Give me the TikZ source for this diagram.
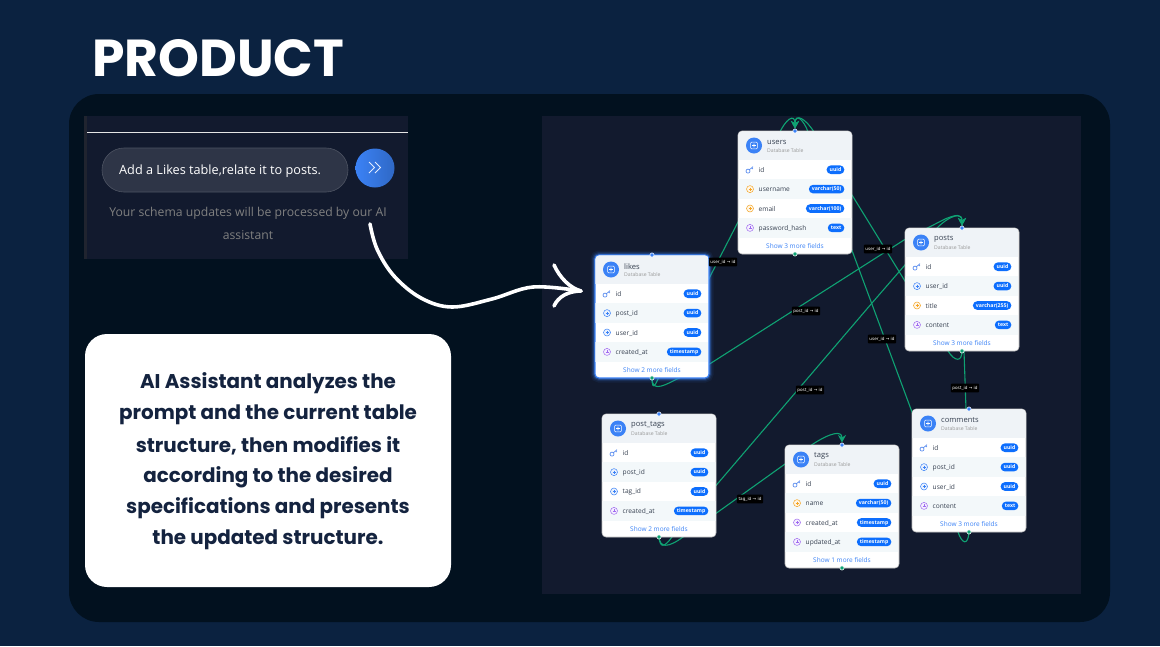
\documentclass[tikz,border=0pt]{standalone}
\usepackage{fontspec}
\setmainfont{Open Sans}
\newfontfamily\titlefont{Poppins}
\newfontfamily\edgefont{DejaVu Sans}
\usetikzlibrary{backgrounds, arrows.meta}
\pgfdeclarelayer{edges}
\pgfsetlayers{background,edges,main}

\definecolor{pagebg}{HTML}{0B2240}
\definecolor{panelbg}{HTML}{02111F}
\definecolor{shotbg}{HTML}{121A2E}
\definecolor{stripbg}{HTML}{20242F}
\definecolor{edgegreen}{HTML}{0FA273}
\definecolor{pillblue}{HTML}{0D6EFD}
\definecolor{iconblue}{HTML}{3B82F6}
\definecolor{iconorange}{HTML}{F5A524}
\definecolor{iconpurple}{HTML}{A06CF0}
\definecolor{keyblue}{HTML}{5B8DEF}
\definecolor{rowtint}{HTML}{F3F8FA}
\definecolor{headtint}{HTML}{EFF3F7}
\definecolor{inktext}{HTML}{374151}
\definecolor{boxtext}{HTML}{14233F}

\newcommand{\fsize}[1]{\fontsize{#1}{#1}\selectfont}

\tikzset{
  card/.style={draw=black!25, fill=white, rounded corners=4, line width=.6pt,
    minimum width=114, minimum height=123, anchor=north west, inner sep=0, outer sep=0},
  glow/.style={draw=iconblue, line width=1.1pt,
    preaction={draw=iconblue, line width=9pt, opacity=.08},
    preaction={draw=iconblue, line width=6pt, opacity=.14},
    preaction={draw=iconblue, line width=3.5pt, opacity=.3}},
  edge/.style={draw=edgegreen, line width=1.1pt, >={Stealth[length=7.5, width=8]}, shorten >=2.5},
  edgelabel/.style={fill=black, text=white, font=\edgefont\fsize{4.2}, inner xsep=1.6, inner ysep=2.4,
    rounded corners=1},
  fieldname/.style={anchor=west, text=inktext, font=\fsize{6.6}, inner sep=0},
  pill/.style={anchor=east, fill=pillblue, text=white, font=\bfseries\fsize{5.2}, rounded corners=4.2,
    minimum height=8.6, inner xsep=3, inner ysep=0, text height=4, text depth=.8},
  plusicon/.style={circle, draw=#1, fill=#1!10, line width=.5pt, minimum size=7, inner sep=0},
}

% one table card: options, name, x, y, title, footer, rows
\newcommand{\tablecard}[7][]{%
  \node[card,#1] (#2) at (#3,#4) {};
  \begin{scope}[shift={(#3,#4)}]
    \begin{scope}
      \clip[rounded corners=4] (.3,.3) rectangle (113.7,122.7);
      \fill[headtint] (0,0) rectangle (114,29);
      \fill[rowtint] (0,48.4) rectangle (114,67.8);
      \fill[rowtint] (0,87.2) rectangle (114,106.6);
    \end{scope}
    \node[circle, fill=iconblue, minimum size=16, inner sep=0] (#2-icon) at (16,14.5) {};
    \draw[white, line width=.6pt, rounded corners=1] (12.6,11.1) rectangle (19.4,17.9)
      (16,12.6) -- (16,16.4) (14.1,14.5) -- (17.9,14.5);
    \node[anchor=west, text=inktext, font=\fsize{7.6}, inner sep=0] (#2-title) at (29,11.2) {#5};
    \node[anchor=west, text=black!40, font=\fsize{5.1}, inner sep=0] (#2-sub) at (29,19.6) {Database Table};
    \foreach \rownum/\fcolor/\fname/\ftype [evaluate=\rownum as \rowy using 38.7+19.4*\rownum] in {#7} {
      \ifx\fcolor\keymark
        \draw[keyblue, line width=.7pt] (10,\rowy+1.4) circle (2) (11.4,\rowy) -- (15,\rowy-3)
          (13.6,\rowy-1.8) -- (14.8,\rowy-.7);
      \else
        \node[plusicon=\fcolor] (#2-plus-\rownum) at (12,\rowy) {};
        \draw[\fcolor, line width=.4pt] (10.5,\rowy) -- (13.5,\rowy) (12,\rowy-1.5) -- (12,\rowy+1.5);
      \fi
      \node[fieldname] (#2-name-\rownum) at (20.5,\rowy+.6) {\fname};
      \node[pill] (#2-type-\rownum) at (106.5,\rowy) {\ftype};
    }
    \node[text=iconblue, font=\fsize{6.5}, inner sep=0] (#2-more) at (57,115) {#6};
  \end{scope}
  \node[circle, fill=iconblue, draw=white, line width=.5pt, minimum size=4.2, inner sep=0] (#2-top) at (#2.north) {};
  \node[circle, fill=edgegreen, draw=white, line width=.5pt, minimum size=4.2, inner sep=0] (#2-bot) at (#2.south) {};
}
\def\keymark{key}

\begin{document}
\begin{tikzpicture}[x=1pt, y=-1pt]
  \useasboundingbox (0,0) rectangle (1160,646);

  \begin{scope}[on background layer]
    \fill[pagebg] (0,0) rectangle (1160,646);
    \fill[panelbg, rounded corners=30] (69,94) rectangle (1110,622);
    \fill[shotbg] (84,116) rectangle (408,259);
    \fill[shotbg] (542,116) rectangle (1081,594);
    \fill[stripbg] (84,116) rectangle (87,259);
  \end{scope}

  \node[anchor=west, text=white, font=\titlefont\bfseries\fsize{52}, inner sep=0] (title) at (92,58) {PRODUCT};

  % prompt screenshot
  \draw[black!10, line width=1pt] (87,132) -- (408,132);
  \node[draw=white!25!shotbg, fill=white!12!shotbg, rounded corners=22, line width=.6pt, minimum width=246, minimum height=44,
    inner sep=0] (prompt) at (225,170) {};
  \node[anchor=west, text=white, font=\fsize{12.7}, inner sep=0] (prompttext) at (119,171) {Add a Likes table,relate it to posts.};
  \node[circle, left color=iconblue, right color=iconblue!80!black, minimum size=39, inner sep=0] (send) at (375,168) {};
  \draw[white!85!iconblue, line width=.8pt] (369,162) -- (374.5,167.5) -- (369,173) (375,162) -- (380.5,167.5) -- (375,173);
  \node[text=black!50, font=\fsize{12.2}, inner sep=0] (hintone) at (248,213) {Your schema updates will be processed by our AI};
  \node[text=black!50, font=\fsize{12.2}, inner sep=0] (hinttwo) at (248,235) {assistant};

  % explanation box
  \node[fill=white, rounded corners=22, minimum width=366, minimum height=253, inner sep=0] (explain) at (268,460.5) {};
  \foreach \ln/\lt in {0/AI Assistant analyzes the, 1/prompt and the current table, 2/{structure, then modifies it},
      3/according to the desired, 4/specifications and presents, 5/the updated structure.} {
    \node[text=boxtext, font=\titlefont\bfseries\fsize{19.9}, inner sep=0] (explain-\ln) at (268,383.5+31.2*\ln) {\lt};
  }

  % tables
  \tablecard{users}{738}{131}{users}{Show 3 more fields}{0/key/id/uuid, 1/iconorange/username/varchar(50),
    2/iconorange/email/varchar(100), 3/iconpurple/password\_hash/text}
  \tablecard[glow]{likes}{595}{255}{likes}{Show 2 more fields}{0/key/id/uuid, 1/iconblue/post\_id/uuid,
    2/iconblue/user\_id/uuid, 3/iconpurple/created\_at/timestamp}
  \tablecard{posts}{905}{228}{posts}{Show 3 more fields}{0/key/id/uuid, 1/iconblue/user\_id/uuid,
    2/iconorange/title/varchar(255), 3/iconpurple/content/text}
  \tablecard{posttags}{602}{414}{post\_tags}{Show 2 more fields}{0/key/id/uuid, 1/iconblue/post\_id/uuid,
    2/iconblue/tag\_id/uuid, 3/iconpurple/created\_at/timestamp}
  \tablecard{tags}{785}{445}{tags}{Show 1 more fields}{0/key/id/uuid, 1/iconorange/name/varchar(50),
    2/iconpurple/created\_at/timestamp, 3/iconpurple/updated\_at/timestamp}
  \tablecard{comments}{912}{409}{comments}{Show 3 more fields}{0/key/id/uuid, 1/iconblue/post\_id/uuid,
    2/iconblue/user\_id/uuid, 3/iconpurple/content/text}

  % relations, behind the cards
  \begin{pgfonlayer}{edges}
    \draw[edge,->] (likes.south) .. controls (652,388) and (654,390) .. (660,374) -- (738,222) -- (779,134)
      .. controls (785,120) and (795,112) .. (users.north);
    \draw[edge,->] (likes.south) .. controls (652,390) and (660,388) .. (675,380) -- (708,365) -- (904,240) -- (945,219)
      .. controls (955,215) and (962,213) .. (posts.north);
    \draw[edge,->] (posttags.south) .. controls (660,548) and (664,548) .. (672,537) -- (872,303) -- (937,228)
      .. controls (950,215) and (962,212) .. (posts.north);
    \draw[edge,->] (posttags.south) .. controls (660,548) and (668,548) .. (683,537) -- (785,464) -- (813,444)
      .. controls (830,433) and (842,430) .. (tags.north);
    \draw[edge,->] (posts.south) .. controls (962,362) and (955,362) .. (948,351) -- (852,195) -- (814,132)
      .. controls (806,119) and (795,112) .. (users.north);
    \draw[edge,->] (comments.south) .. controls (968,546) and (962,544) .. (958,532) -- (912,412) -- (808,132)
      .. controls (804,120) and (795,112) .. (users.north);
    \draw[edge,->] (comments.south) -- (966,409) -- (964,351) -- (962,222) -- (posts.north);
  \end{pgfonlayer}

  \node[edgelabel] (label-a) at (723,262) {user\_id → id};
  \node[edgelabel] (label-b) at (806,311) {post\_id → id};
  \node[edgelabel] (label-c) at (810,390) {post\_id → id};
  \node[edgelabel] (label-d) at (878,249) {user\_id → id};
  \node[edgelabel] (label-e) at (882,339) {user\_id → id};
  \node[edgelabel] (label-f) at (965,388) {post\_id → id};
  \node[edgelabel] (label-g) at (750,499) {tag\_id → id};

  % hand drawn arrow
  \coordinate (handstart) at (370,224);
  \coordinate (handtip) at (581,291);
  \draw[white, line width=3.6pt, line cap=round, line join=round] plot[smooth, tension=.6] coordinates
    {(handstart) (377,249) (394,276) (421,298) (452,307) (492,299) (533,287) (handtip)};
  \draw[white, line width=3.6pt, line cap=round, line join=round] (554,265) .. controls (560,278) and (570,288) .. (handtip)
    .. controls (568,291) and (558,297) .. (554,306);
\end{tikzpicture}
\end{document}
